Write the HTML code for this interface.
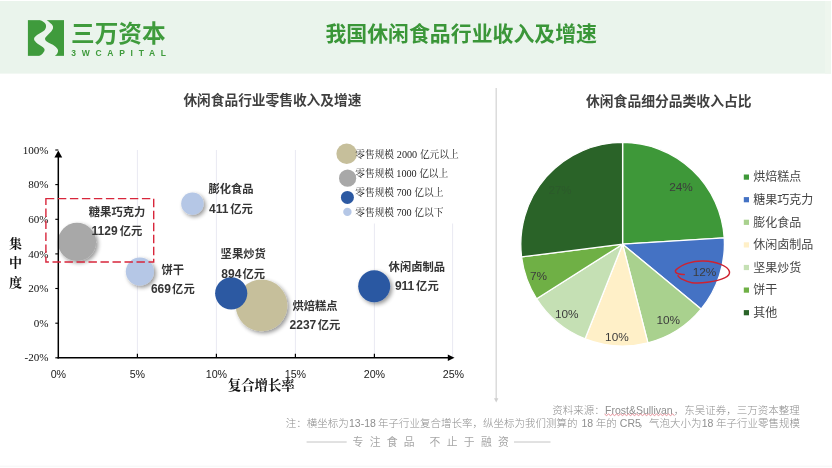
<!DOCTYPE html>
<html lang="zh">
<head>
<meta charset="utf-8">
<title>我国休闲食品行业收入及增速</title>
<style>
html,body{margin:0;padding:0;background:#fff;}
body{width:832px;height:468px;overflow:hidden;font-family:"Liberation Sans",sans-serif;}
svg{display:block;will-change:transform;}
</style>
</head>
<body>
<svg width="832" height="468" viewBox="0 0 832 468">
<defs>

<filter id="sh" x="-30%" y="-30%" width="170%" height="170%">
  <feGaussianBlur in="SourceAlpha" stdDeviation="1.9"/>
  <feOffset dx="1.8" dy="1.8" result="b"/>
  <feComponentTransfer><feFuncA type="linear" slope="0.42"/></feComponentTransfer>
  <feMerge><feMergeNode/><feMergeNode in="SourceGraphic"/></feMerge>
</filter>

</defs>
<rect x="0" y="0" width="832" height="468" fill="#ffffff"/>
<rect x="0" y="1" width="831" height="72.6" fill="#eaf4ec"/>
<rect x="825" y="1" width="6" height="72.6" fill="#eef6ee"/>
<rect x="0" y="465.6" width="832" height="1.6" fill="#f8f8f8"/>
<g id="logo">
<rect x="27.9" y="20.15" width="36.1" height="35.7" fill="#3f9b3c"/>
<path d="M37.37 19.33 C38.22 19.64 41.07 20.27 42.49 21.17 C43.91 22.08 45.50 23.31 45.87 24.76 C46.25 26.21 46.16 28.21 44.75 29.88 C43.33 31.55 39.14 33.35 37.37 34.80 C35.59 36.25 34.30 37.31 34.09 38.59 C33.89 39.87 34.65 41.03 36.14 42.48 C37.62 43.94 41.60 45.98 43.00 47.30 C44.40 48.61 44.66 49.26 44.54 50.37 C44.42 51.48 43.31 52.97 42.29 53.96 C41.26 54.95 39.04 55.92 38.39 56.32 L54.58 56.32 C55.04 55.79 56.80 54.25 57.35 53.14 C57.89 52.03 58.32 50.85 57.86 49.66 C57.40 48.46 56.38 47.27 54.58 45.97 C52.79 44.67 48.69 43.06 47.10 41.87 C45.51 40.67 45.10 39.77 45.05 38.80 C45.00 37.82 45.77 37.22 46.80 36.03 C47.82 34.83 50.16 32.99 51.20 31.62 C52.24 30.26 52.96 29.06 53.05 27.83 C53.13 26.60 52.84 25.61 51.71 24.25 C50.59 22.88 47.19 20.40 46.28 19.64 Z" fill="#eaf4ec"/>
</g>
<text x="71" y="42" font-size="23.7" font-weight="bold" fill="#3f9b3c" textLength="94.7" lengthAdjust="spacingAndGlyphs" font-family="'Liberation Sans','Noto Sans CJK SC',sans-serif">三万资本</text>
<text x="71.3" y="56" font-size="8.5" font-weight="bold" fill="#3f9b3c" textLength="94.7" lengthAdjust="spacing" font-family="'Liberation Sans',sans-serif">3WCAPITAL</text>
<text x="325.4" y="41.1" font-size="20.9" font-weight="bold" fill="#3a9638" font-family="'Liberation Sans','Noto Sans CJK SC',sans-serif">我国休闲食品行业收入及增速</text>
<text x="183.4" y="104.7" font-size="13.7" font-weight="bold" fill="#404040" font-family="'Liberation Sans','Noto Sans CJK SC',sans-serif">休闲食品行业零售收入及增速</text>
<line x1="137.4" y1="150" x2="137.4" y2="357.8" stroke="#e9e9f2" stroke-width="1"/>
<line x1="216.4" y1="150" x2="216.4" y2="357.8" stroke="#e9e9f2" stroke-width="1"/>
<line x1="295.4" y1="150" x2="295.4" y2="357.8" stroke="#e9e9f2" stroke-width="1"/>
<line x1="374.4" y1="150" x2="374.4" y2="357.8" stroke="#e9e9f2" stroke-width="1"/>
<line x1="452.6" y1="150" x2="452.6" y2="357.8" stroke="#e9e9f2" stroke-width="1"/>
<text x="48.6" y="153.6" text-anchor="end" font-family="Liberation Serif, serif" font-size="11.1" fill="#111">100%</text>
<text x="48.6" y="188.2" text-anchor="end" font-family="Liberation Serif, serif" font-size="11.1" fill="#111">80%</text>
<text x="48.6" y="222.9" text-anchor="end" font-family="Liberation Serif, serif" font-size="11.1" fill="#111">60%</text>
<text x="48.6" y="257.5" text-anchor="end" font-family="Liberation Serif, serif" font-size="11.1" fill="#111">40%</text>
<text x="48.6" y="292.1" text-anchor="end" font-family="Liberation Serif, serif" font-size="11.1" fill="#111">20%</text>
<text x="48.6" y="326.8" text-anchor="end" font-family="Liberation Serif, serif" font-size="11.1" fill="#111">0%</text>
<text x="48.6" y="361.4" text-anchor="end" font-family="Liberation Serif, serif" font-size="11.1" fill="#111">-20%</text>
<text x="58.4" y="377.6" text-anchor="middle" font-family="Liberation Sans, sans-serif" font-size="10.7" fill="#1a1a1a">0%</text>
<text x="137.4" y="377.6" text-anchor="middle" font-family="Liberation Sans, sans-serif" font-size="10.7" fill="#1a1a1a">5%</text>
<text x="216.4" y="377.6" text-anchor="middle" font-family="Liberation Sans, sans-serif" font-size="10.7" fill="#1a1a1a">10%</text>
<text x="295.4" y="377.6" text-anchor="middle" font-family="Liberation Sans, sans-serif" font-size="10.7" fill="#1a1a1a">15%</text>
<text x="374.4" y="377.6" text-anchor="middle" font-family="Liberation Sans, sans-serif" font-size="10.7" fill="#1a1a1a">20%</text>
<text x="453.4" y="377.6" text-anchor="middle" font-family="Liberation Sans, sans-serif" font-size="10.7" fill="#1a1a1a">25%</text>
<text x="9" y="247.8" font-size="13" font-weight="bold" fill="#111" font-family="'Liberation Serif','Noto Serif CJK SC',serif">集</text>
<text x="9" y="266.9" font-size="13" font-weight="bold" fill="#111" font-family="'Liberation Serif','Noto Serif CJK SC',serif">中</text>
<text x="9" y="286.7" font-size="13" font-weight="bold" fill="#111" font-family="'Liberation Serif','Noto Serif CJK SC',serif">度</text>
<text x="227.8" y="390" font-size="13.4" font-weight="bold" fill="#111" font-family="'Liberation Serif','Noto Serif CJK SC',serif">复合增长率</text>
<circle cx="77.0" cy="241.9" r="19.1" fill="#a8a8a8" filter="url(#sh)"/>
<circle cx="192.4" cy="203.7" r="11.2" fill="#b5c7e6" filter="url(#sh)"/>
<circle cx="139.9" cy="271.6" r="14.1" fill="#b5c7e6" filter="url(#sh)"/>
<circle cx="261.6" cy="305.4" r="25.8" fill="#c6bf9b" filter="url(#sh)"/>
<circle cx="231.2" cy="293.3" r="16.1" fill="#2c59a2"/>
<circle cx="374.2" cy="286.2" r="16.0" fill="#2c59a2" filter="url(#sh)"/>
<line x1="58.3" y1="156" x2="58.3" y2="358.5" stroke="#000" stroke-width="1.5"/>
<path d="M58.3 150.6 L54.4 157.6 L62.2 157.6 Z" fill="#000"/>
<line x1="57.5" y1="357.8" x2="449" y2="357.8" stroke="#000" stroke-width="1.5"/>
<path d="M454.5 357.8 L447.8 354.6 L447.8 361 Z" fill="#000"/>
<line x1="55.3" y1="150.0" x2="58.3" y2="150.0" stroke="#000" stroke-width="1.1"/>
<line x1="55.3" y1="184.6" x2="58.3" y2="184.6" stroke="#000" stroke-width="1.1"/>
<line x1="55.3" y1="219.3" x2="58.3" y2="219.3" stroke="#000" stroke-width="1.1"/>
<line x1="55.3" y1="253.9" x2="58.3" y2="253.9" stroke="#000" stroke-width="1.1"/>
<line x1="55.3" y1="288.5" x2="58.3" y2="288.5" stroke="#000" stroke-width="1.1"/>
<line x1="55.3" y1="323.2" x2="58.3" y2="323.2" stroke="#000" stroke-width="1.1"/>
<line x1="55.3" y1="357.8" x2="58.3" y2="357.8" stroke="#000" stroke-width="1.1"/>
<line x1="137.4" y1="353.8" x2="137.4" y2="357.8" stroke="#000" stroke-width="1.2"/>
<line x1="216.4" y1="353.8" x2="216.4" y2="357.8" stroke="#000" stroke-width="1.2"/>
<line x1="295.4" y1="353.8" x2="295.4" y2="357.8" stroke="#000" stroke-width="1.2"/>
<line x1="374.4" y1="353.8" x2="374.4" y2="357.8" stroke="#000" stroke-width="1.2"/>
<rect x="45.9" y="198.6" width="107.8" height="63.4" fill="none" stroke="#d8263b" stroke-width="1.4" stroke-dasharray="8.4 3.6"/>
<g fill="#353535" font-weight="bold" font-size="11.3" font-family="'Liberation Sans','Noto Sans CJK SC',sans-serif">
<text x="208.4" y="193.3">膨化食品</text>
<text y="213.3"><tspan x="209.1" font-size="12">411</tspan><tspan x="230.3">亿元</tspan></text>
<text x="88.8" y="216">糖果巧克力</text>
<text y="235.3"><tspan x="91.6" font-size="12">1129</tspan><tspan x="119.8">亿元</tspan></text>
<text x="161.5" y="273.7">饼干</text>
<text y="293"><tspan x="150.9" font-size="12">669</tspan><tspan x="172.1">亿元</tspan></text>
<text x="220.6" y="258.1">坚果炒货</text>
<text y="278.3"><tspan x="221.3" font-size="12">894</tspan><tspan x="242.5">亿元</tspan></text>
<text x="292.4" y="310.1">烘焙糕点</text>
<text y="328.9"><tspan x="289.6" font-size="12">2237</tspan><tspan x="317.8">亿元</tspan></text>
<text x="388.6" y="270.8">休闲卤制品</text>
<text y="289.9"><tspan x="394.9" font-size="12">911</tspan><tspan x="416.1">亿元</tspan></text>
</g>
<rect x="333" y="141" width="130" height="82.5" fill="#fff"/>
<circle cx="346.7" cy="153.8" r="10.3" fill="#c6bf9b"/>
<circle cx="347.6" cy="178.2" r="8.6" fill="#a8a8a8"/>
<circle cx="347.4" cy="197.4" r="6.5" fill="#2c59a2"/>
<circle cx="347.4" cy="211.9" r="4.2" fill="#b5c7e6"/>
<g fill="#222" font-size="9.7" font-family="'Liberation Serif','Noto Serif CJK SC',serif">
<text y="157.6"><tspan x="355.3">零售规模</tspan><tspan x="396.8" font-size="10.2">2000</tspan><tspan x="419.9">亿元以上</tspan></text>
<text y="176.8"><tspan x="355.3">零售规模</tspan><tspan x="396.3" font-size="10.2">1000</tspan><tspan x="419.2">亿以上</tspan></text>
<text y="196.1"><tspan x="355.3">零售规模</tspan><tspan x="396.4" font-size="10.2">700</tspan><tspan x="414.3">亿以上</tspan></text>
<text y="216.2"><tspan x="355.3">零售规模</tspan><tspan x="396.4" font-size="10.2">700</tspan><tspan x="414.3">亿以下</tspan></text>
</g>
<line x1="496.2" y1="88" x2="496.2" y2="399" stroke="#d6d6d6" stroke-width="1.3"/>
<path d="M496.2 402.5 L494 398.3 L498.4 398.3 Z" fill="#cfcfcf"/>
<text x="586" y="106.3" font-size="13.8" font-weight="bold" fill="#404040" font-family="'Liberation Sans','Noto Sans CJK SC',sans-serif">休闲食品细分品类收入占比</text>
<path d="M622.60 244.20 L622.60 142.40 A101.80 101.80 0 0 1 724.20 237.81 Z" fill="#3e9839" stroke="#fff" stroke-width="1.3" stroke-linejoin="round"/>
<path d="M622.60 244.20 L724.20 237.81 A101.80 101.80 0 0 1 701.04 309.09 Z" fill="#4472c4" stroke="#fff" stroke-width="1.3" stroke-linejoin="round"/>
<path d="M622.60 244.20 L701.04 309.09 A101.80 101.80 0 0 1 647.92 342.80 Z" fill="#a9d18e" stroke="#fff" stroke-width="1.3" stroke-linejoin="round"/>
<path d="M622.60 244.20 L647.92 342.80 A101.80 101.80 0 0 1 585.12 338.85 Z" fill="#fff0c8" stroke="#fff" stroke-width="1.3" stroke-linejoin="round"/>
<path d="M622.60 244.20 L585.12 338.85 A101.80 101.80 0 0 1 536.65 298.75 Z" fill="#c5e0b4" stroke="#fff" stroke-width="1.3" stroke-linejoin="round"/>
<path d="M622.60 244.20 L536.65 298.75 A101.80 101.80 0 0 1 521.60 256.96 Z" fill="#6fb045" stroke="#fff" stroke-width="1.3" stroke-linejoin="round"/>
<path d="M622.60 244.20 L521.60 256.96 A101.80 101.80 0 0 1 622.60 142.40 Z" fill="#2a6328" stroke="#fff" stroke-width="1.3" stroke-linejoin="round"/>
<text x="681.0" y="190.9" text-anchor="middle" font-family="Liberation Sans, sans-serif" font-size="11.8" fill="#3c3c3c">24%</text>
<text x="704.5" y="275.7" text-anchor="middle" font-family="Liberation Sans, sans-serif" font-size="11.8" fill="#3c3c3c">12%</text>
<text x="668.2" y="324.0" text-anchor="middle" font-family="Liberation Sans, sans-serif" font-size="11.8" fill="#3c3c3c">10%</text>
<text x="616.9" y="341.1" text-anchor="middle" font-family="Liberation Sans, sans-serif" font-size="11.8" fill="#3c3c3c">10%</text>
<text x="566.7" y="317.5" text-anchor="middle" font-family="Liberation Sans, sans-serif" font-size="11.8" fill="#3c3c3c">10%</text>
<text x="538.5" y="279.6" text-anchor="middle" font-family="Liberation Sans, sans-serif" font-size="11.8" fill="#3c3c3c">7%</text>
<text x="560" y="194.2" text-anchor="middle" font-family="Liberation Sans, sans-serif" font-size="11.5" fill="#2c5a2b">27%</text>
<path d="M684.2 274.6 C683.03 274.40 678.53 274.23 677.20 273.40 C675.87 272.57 674.38 271.32 676.20 269.60 C678.02 267.88 683.55 264.53 688.10 263.10 C692.65 261.67 698.05 260.78 703.50 261.00 C708.95 261.22 716.48 262.65 720.80 264.40 C725.12 266.15 728.77 269.25 729.40 271.50 C730.03 273.75 728.28 276.10 724.60 277.90 C720.92 279.70 712.75 281.50 707.30 282.30 C701.85 283.10 696.23 283.28 691.90 282.70 C687.57 282.12 683.62 279.95 681.30 278.80 C678.98 277.65 678.55 276.30 678.00 275.80" fill="none" stroke="#cf2230" stroke-width="1.5" stroke-linecap="round"/>
<g fill="#454545" font-size="12" font-family="'Liberation Sans','Noto Sans CJK SC',sans-serif">
<rect x="743.8" y="174.5" width="5.2" height="5.2" fill="#3e9839"/>
<text x="753.2" y="181.4">烘焙糕点</text>
<rect x="743.8" y="197.1" width="5.2" height="5.2" fill="#4472c4"/>
<text x="753.2" y="204">糖果巧克力</text>
<rect x="743.8" y="219.7" width="5.2" height="5.2" fill="#a9d18e"/>
<text x="753.2" y="226.6">膨化食品</text>
<rect x="743.8" y="242.3" width="5.2" height="5.2" fill="#fff0c8"/>
<text x="753.2" y="249.2">休闲卤制品</text>
<rect x="743.8" y="264.9" width="5.2" height="5.2" fill="#c5e0b4"/>
<text x="753.2" y="271.8">坚果炒货</text>
<rect x="743.8" y="287.5" width="5.2" height="5.2" fill="#6fb045"/>
<text x="753.2" y="294.4">饼干</text>
<rect x="743.8" y="310.1" width="5.2" height="5.2" fill="#2a6328"/>
<text x="753.2" y="317">其他</text>
</g>
<text y="414.2" font-size="10.5" fill="#8e8e8e" font-weight="300" font-family="'Liberation Sans','Noto Sans CJK SC',sans-serif"><tspan x="552.3">资料来源：</tspan><tspan x="605">Frost&amp;Sullivan</tspan><tspan x="673.8">，东吴证券，三万资本整理</tspan></text>
<text y="426.9" font-size="10.5" fill="#8e8e8e" font-weight="300" font-family="'Liberation Sans','Noto Sans CJK SC',sans-serif"><tspan x="285.7">注：横坐标为</tspan><tspan x="349">13-18</tspan><tspan x="378.05">年子行业复合增长率，纵坐标为我们测算的</tspan><tspan x="581.5">18</tspan><tspan x="595.7">年的</tspan><tspan x="619.8">CR5</tspan><tspan x="638.45">，气泡大小为</tspan><tspan x="701.75">18</tspan><tspan x="716">年子行业零售规模</tspan></text>
<polyline points="604.5 414.0 606.5 415.6 608.5 414.0 610.5 415.6 612.5 414.0 614.5 415.6 616.5 414.0 618.5 415.6 620.5 414.0 622.5 415.6 624.5 414.0 626.5 415.6 628.5 414.0 630.5 415.6 632.5 414.0 634.5 415.6 636.5 414.0 638.5 415.6 640.5 414.0 642.5 415.6 644.5 414.0 646.5 415.6 648.5 414.0 650.5 415.6 652.5 414.0 654.5 415.6 656.5 414.0 658.5 415.6 660.5 414.0 662.5 415.6 664.5 414.0 666.5 415.6 668.5 414.0 670.5 415.6 672.5 414.0 674.5 415.6" fill="none" stroke="#e2808a" stroke-width="0.9"/>
<line x1="306.6" y1="442" x2="346.7" y2="442" stroke="#c4c4c4" stroke-width="1"/>
<line x1="514" y1="442" x2="550.5" y2="442" stroke="#c4c4c4" stroke-width="1"/>
<text x="352.6" y="446" font-size="10.8" letter-spacing="6.24" fill="#a6a6a6" font-family="'Liberation Sans','Noto Sans CJK SC',sans-serif">专注食品</text>
<text x="429.6" y="446" font-size="10.8" letter-spacing="6.32" fill="#a6a6a6" font-family="'Liberation Sans','Noto Sans CJK SC',sans-serif">不止于融资</text>
</svg>
</body>
</html>
